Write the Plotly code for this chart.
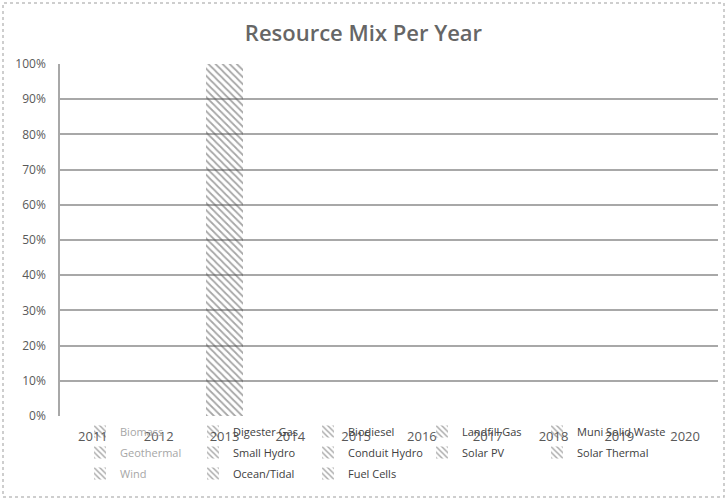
import plotly.graph_objects as go

years = ["2011", "2012", "2013", "2014", "2015", "2016", "2017", "2018", "2019", "2020"]
series_names = [
    "Biomass", "Digester Gas", "Biodiesel", "Landfill Gas", "Muni Solid Waste",
    "Geothermal", "Small Hydro", "Conduit Hydro", "Solar PV", "Solar Thermal",
    "Wind", "Ocean/Tidal", "Fuel Cells",
]
light_names = ["Biomass", "Geothermal", "Wind"]
# percent share per year for each resource
values = {
    "Biomass":          [0, 0, 100, 0, 0, 0, 0, 0, 0, 0],
    "Digester Gas":     [0, 0, 0, 0, 0, 0, 0, 0, 0, 0],
    "Biodiesel":        [0, 0, 0, 0, 0, 0, 0, 0, 0, 0],
    "Landfill Gas":     [0, 0, 0, 0, 0, 0, 0, 0, 0, 0],
    "Muni Solid Waste": [0, 0, 0, 0, 0, 0, 0, 0, 0, 0],
    "Geothermal":       [0, 0, 0, 0, 0, 0, 0, 0, 0, 0],
    "Small Hydro":      [0, 0, 0, 0, 0, 0, 0, 0, 0, 0],
    "Conduit Hydro":    [0, 0, 0, 0, 0, 0, 0, 0, 0, 0],
    "Solar PV":         [0, 0, 0, 0, 0, 0, 0, 0, 0, 0],
    "Solar Thermal":    [0, 0, 0, 0, 0, 0, 0, 0, 0, 0],
    "Wind":             [0, 0, 0, 0, 0, 0, 0, 0, 0, 0],
    "Ocean/Tidal":      [0, 0, 0, 0, 0, 0, 0, 0, 0, 0],
    "Fuel Cells":       [0, 0, 0, 0, 0, 0, 0, 0, 0, 0],
}
y_ticks = [0, 10, 20, 30, 40, 50, 60, 70, 80, 90, 100]
y_tick_labels = [f"{v}%" for v in y_ticks]

W, H = 727, 500
ml, mr, mt, mb = 60, 9, 64, 84
pw, ph = W - ml - mr, H - mt - mb

def px_x(x):
    return (x - ml) / pw

def px_y(y):
    return (H - mb - y) / ph

n_cols = 5
legend_ids = ["legend", "legend2", "legend3", "legend4", "legend5"]
legend_x_px = [80, 193, 308, 422, 537]

fig = go.Figure()
for i, name in enumerate(series_names):
    color = "#a6a6a6" if name in light_names else "#404040"
    fig.add_trace(go.Bar(
        x=years, y=values[name],
        name=f"<span style='color:{color}'>{name}</span>",
        legend=legend_ids[i % n_cols],
        legendgroup=name,
        marker=dict(color="rgba(0,0,0,0)", line=dict(width=0),
                    pattern=dict(shape="\\", fgcolor="#4d4d4d",
                                 bgcolor="rgba(0,0,0,0)",
                                 size=5, solidity=0.35)),
    ))

legend_common = dict(orientation="v", xanchor="left", yanchor="top",
                     y=px_y(417), traceorder="grouped", tracegroupgap=2,
                     font=dict(size=11, family="Open Sans"),
                     bgcolor="rgba(0,0,0,0)")
legend_layout = {lid: dict(x=px_x(xp), **legend_common)
                 for lid, xp in zip(legend_ids, legend_x_px)}

fig.update_layout(
    width=W, height=H,
    margin=dict(l=ml, r=mr, t=mt, b=mb, autoexpand=False),
    barmode="stack", bargap=0.44,
    paper_bgcolor="white", plot_bgcolor="white",
    font=dict(family="Open Sans", color="#595959"),
    title=dict(text="Resource Mix Per Year", x=0.5, xanchor="center",
               xref="container", yref="container",
               y=1 - 33 / H, yanchor="middle",
               font=dict(size=22, color="#666666", family="Open Sans", weight=600)),
    xaxis=dict(type="category", showgrid=False, showline=False, ticks="",
               ticklabelstandoff=11, automargin=False,
               tickfont=dict(size=13, color="#595959")),
    yaxis=dict(range=[0, 100], tickvals=y_ticks, ticktext=y_tick_labels,
               showgrid=True, gridcolor="#a8a8a8", gridwidth=1.5,
               showline=True, linecolor="#a8a8a8", linewidth=1.5,
               zeroline=False, ticks="", ticklabelstandoff=10, automargin=False,
               tickfont=dict(size=12, color="#595959")),
    showlegend=True,
    shapes=[dict(type="rect", xref="paper", yref="paper",
                 x0=px_x(3), x1=px_x(724), y0=px_y(497), y1=px_y(3),
                 line=dict(color="#bfbfbf", width=1.5, dash="dot"),
                 layer="below")],
    **legend_layout,
)

fig.write_html("out.html", config={"displayModeBar": False},
               post_script="document.body.style.margin='0';")
